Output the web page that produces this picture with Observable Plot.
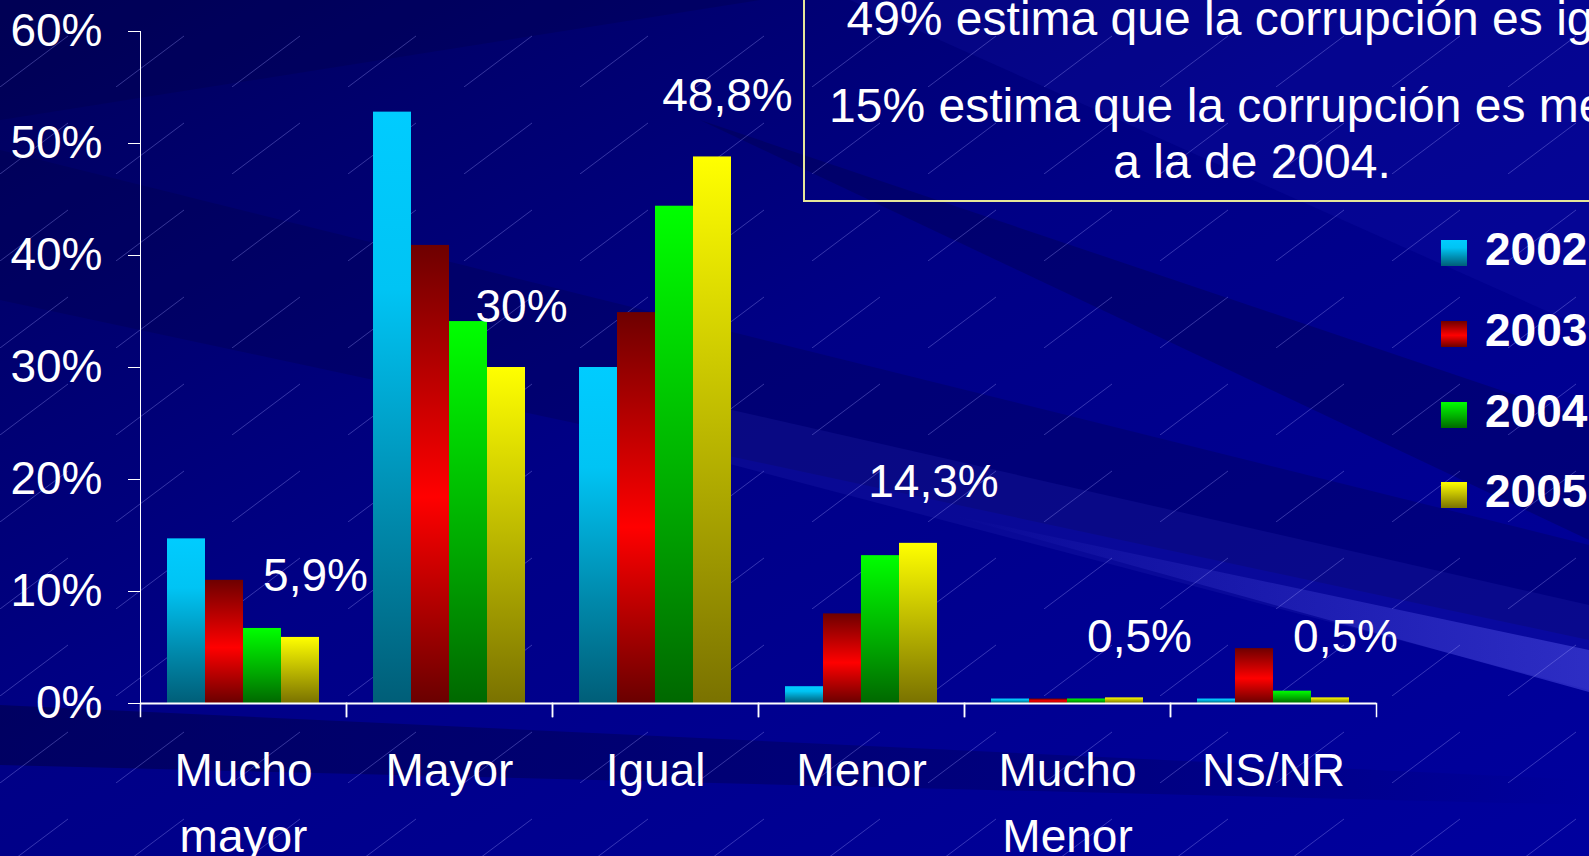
<!DOCTYPE html>
<html><head><meta charset="utf-8">
<script src="https://cdn.jsdelivr.net/npm/d3@7"></script>
<script src="https://cdn.jsdelivr.net/npm/@observablehq/plot@0.6"></script>
<style>
html,body{margin:0;padding:0;background:#000080;overflow:hidden}
#chart{position:relative;width:1589px;height:856px}
</style></head><body><div id="chart"></div>
<script>
// ---- data ----
const categories = ["Mucho\nmayor", "Mayor", "Igual", "Menor", "Mucho\nMenor", "NS/NR"];
const years = ["2002", "2003", "2004", "2005"];
const v2002 = [14.7, 52.8, 30.0, 1.5, 0.4, 0.4];
const v2003 = [11.0, 40.9, 34.9, 8.0, 0.4, 4.9];
const v2004 = [6.7, 34.1, 44.4, 13.2, 0.4, 1.1];
const v2005 = [5.9, 30.0, 48.8, 14.3, 0.5, 0.5];
const labels2005 = ["5,9%", "30%", "48,8%", "14,3%", "0,5%", "0,5%"];
const yTicks = [0, 10, 20, 30, 40, 50, 60];
const noteLines = ["49% estima que la corrupción es igual", "15% estima que la corrupción es menor", "a la de 2004."];

// ---- styles ----
const W = 1589, H = 856;
const M = {left: 140, right: 213, top: 31, bottom: 153};
const FONT = "'Liberation Sans', Arial, sans-serif";
const gradStops = {
  "2002": [[0, "#00ccff"], [0.3, "#00c4f4"], [0.7, "#0088aa"], [1, "#005e78"]],
  "2003": [[0, "#6e0000"], [0.55, "#ff0000"], [1, "#6a0000"]],
  "2004": [[0, "#00ff00"], [0.6, "#00a800"], [1, "#006800"]],
  "2005": [[0, "#ffff00"], [1, "#7a7200"]]
};

const series = [v2002, v2003, v2004, v2005];
const rows = categories.flatMap((c, i) => years.map((y, j) => ({category: c, year: y, value: series[j][i]})));
const labelRows = categories.map((c, i) => ({category: c, year: "2005", value: v2005[i], label: labels2005[i]}));

// ---- background ----
const chart = d3.select("#chart");
const bg = chart.append("svg").attr("width", W).attr("height", H)
  .style("position", "absolute").style("left", 0).style("top", 0);
const defs = bg.append("defs");
const bgGrad = defs.append("linearGradient").attr("id", "bgGrad")
  .attr("x1", 0).attr("y1", 0).attr("x2", 1).attr("y2", 1);
[[0, "#00005c"], [0.45, "#000086"], [1, "#00009e"]].forEach(([o, c]) =>
  bgGrad.append("stop").attr("offset", o).attr("stop-color", c));
for (const y of years) {
  const g = defs.append("linearGradient").attr("id", "grad" + y)
    .attr("x1", 0).attr("y1", 0).attr("x2", 0).attr("y2", 1);
  gradStops[y].forEach(([o, c]) => g.append("stop").attr("offset", o).attr("stop-color", c));
}
const fadeR = defs.append("linearGradient").attr("id", "fadeR").attr("x1", 0).attr("y1", 0).attr("x2", 1).attr("y2", 0);
fadeR.append("stop").attr("offset", 0).attr("stop-color", "#000040").attr("stop-opacity", 0.5);
fadeR.append("stop").attr("offset", 0.7).attr("stop-color", "#000040").attr("stop-opacity", 0.25);
fadeR.append("stop").attr("offset", 1).attr("stop-color", "#000040").attr("stop-opacity", 0);
const fadeL = defs.append("linearGradient").attr("id", "fadeL").attr("x1", 0).attr("y1", 0).attr("x2", 1).attr("y2", 0);
fadeL.append("stop").attr("offset", 0).attr("stop-color", "#5a5af0").attr("stop-opacity", 0);
fadeL.append("stop").attr("offset", 1).attr("stop-color", "#5a5af0").attr("stop-opacity", 0.45);

const pat = defs.append("pattern").attr("id", "hatch").attr("patternUnits", "userSpaceOnUse")
  .attr("width", 116).attr("height", 87);
pat.append("path").attr("d", "M0,87 L116,0").attr("stroke", "#a0a0ff")
  .attr("stroke-opacity", 0.33).attr("stroke-width", 1).attr("stroke-dasharray", "85 60");

bg.append("rect").attr("width", W).attr("height", H).attr("fill", "url(#bgGrad)");
const bands = [
  {pts: [[0, 0], [760, 0], [0, 120]], fill: "#000040", op: 0.25},
  {pts: [[0, 150], [0, 300], [1589, 640], [1589, 545]], fill: "#000040", op: 0.25},
  {pts: [[700, 120], [1589, 420], [1589, 540]], fill: "#000040", op: 0.30},
  {pts: [[850, 0], [1589, 0], [1589, 330]], fill: "#2020c0", op: 0.15},
  {pts: [[600, 380], [600, 430], [1589, 690], [1589, 605]], fill: "#3030c0", op: 0.18}
];
bands.forEach(b => bg.append("polygon").attr("points", b.pts.map(p => p.join(",")).join(" "))
  .attr("fill", b.fill).attr("fill-opacity", b.op));
bg.append("polygon").attr("points", "950,515 1589,650 1589,692").attr("fill", "url(#fadeL)");
bg.append("polygon").attr("points", "0,705 0,765 1589,805 1589,780").attr("fill", "url(#fadeR)");
bg.append("rect").attr("width", W).attr("height", H).attr("fill", "url(#hatch)");

// ---- chart ----
const innerH = H - M.top - M.bottom;
const plot = Plot.plot({
  width: W, height: H,
  marginLeft: M.left, marginRight: M.right, marginTop: M.top, marginBottom: M.bottom,
  style: {background: "transparent", color: "white", fontFamily: FONT, fontSize: "46px", overflow: "visible"},
  fx: {domain: categories, padding: 0, label: null},
  x: {domain: years, paddingInner: 0, paddingOuter: 0.6667, axis: null},
  y: {domain: [0, 60], ticks: yTicks, tickFormat: d => d + "%", tickSize: 12, tickPadding: 26, line: true, label: null},
  color: {type: "identity"},
  marks: [
    Plot.barY(rows, {fx: "category", x: "year", y: "value", fill: d => `url(#grad${d.year})`, inset: 0}),
    Plot.ruleY([0], {stroke: "white", strokeWidth: 2}),
    Plot.frame({anchor: "left", stroke: "white", strokeWidth: 1.5, insetTop: innerH, insetBottom: -13}),
    Plot.frame({anchor: "right", stroke: "white", strokeWidth: 1.5, insetTop: innerH, insetBottom: -13}),
    Plot.text(labelRows, {fx: "category", x: "year", y: "value", text: "label", dx: 15, dy: -46,
      lineAnchor: "bottom", fill: "white", fontSize: 46}),
    Plot.axisFx({anchor: "bottom", tickSize: 0, tickPadding: 36, lineHeight: 1.43, fontSize: 46, label: null})
  ]
});
plot.style.position = "absolute";
plot.style.left = "0px";
plot.style.top = "0px";
chart.node().appendChild(plot);

// ---- annotation box & legend ----
const ov = d3.select(plot);
ov.append("rect").attr("x", 804).attr("y", -10).attr("width", 900).attr("height", 211)
  .attr("fill", "none").attr("stroke", "#e6e69a").attr("stroke-width", 2);
const noteBaselines = [35, 122, 178];
noteLines.forEach((t, i) => ov.append("text").attr("x", 1252).attr("y", noteBaselines[i])
  .attr("text-anchor", "middle").attr("fill", "white").attr("font-size", 48)
  .attr("font-family", FONT).text(t));

const legendY = [253, 334, 415, 495];
years.forEach((y, i) => {
  ov.append("rect").attr("x", 1441).attr("y", legendY[i] - 13).attr("width", 26).attr("height", 26)
    .attr("fill", `url(#grad${y})`);
  ov.append("text").attr("x", 1485).attr("y", legendY[i] + 12).attr("fill", "white")
    .attr("text-anchor", "start")
    .attr("font-size", 46).attr("font-weight", "bold").attr("font-family", FONT).text(y);
});
</script></body></html>
